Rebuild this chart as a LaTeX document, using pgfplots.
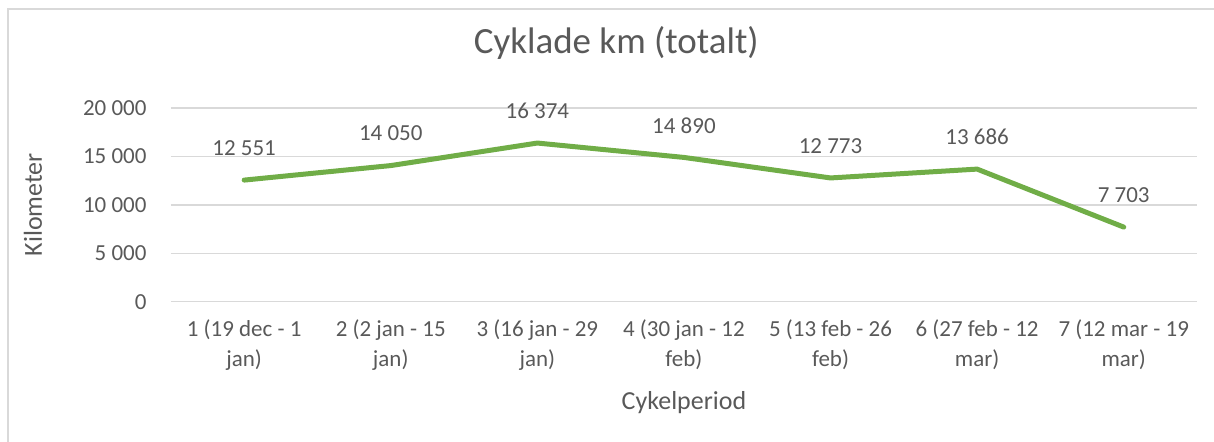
\documentclass[border=0pt]{standalone}
\usepackage{pgfplots}
\pgfplotsset{compat=1.18}
\usepackage{fontspec}
\setmainfont{Carlito}
\definecolor{txt}{HTML}{595959}
\definecolor{grd}{HTML}{D9D9D9}
\definecolor{grn}{HTML}{70AD47}
\begin{document}
\begin{tikzpicture}
\begin{axis}[name=ax, scale only axis, width=513.5pt, height=97pt,
  xmin=-0.5, xmax=6.5, ymin=0, ymax=20000,
  clip=false,
  axis line style={draw=none},
  major tick length=0pt,
  scaled y ticks=false,
  ytick={0,5000,10000,15000,20000},
  yticklabels={0,5 000,10 000,15 000,20 000},
  xtick={0,1,2,3,4,5,6},
  xticklabels={{1 (19 dec - 1\\jan)},{2 (2 jan - 15\\jan)},{3 (16 jan - 29\\jan)},{4 (30 jan - 12\\feb)},{5 (13 feb - 26\\feb)},{6 (27 feb - 12\\mar)},{7 (12 mar - 19\\mar)}},
  ymajorgrids, grid style={grd, line width=0.75pt},
  yticklabel style={font=\fontsize{11.5}{14}\selectfont, text=txt, anchor=east, inner sep=0pt, xshift=-12pt},
  xticklabel style={font=\fontsize{11.5}{15}\selectfont, text=txt, align=center, anchor=north, inner sep=0pt, yshift=-9pt},
  title={Cyklade km (totalt)},
  title style={at={(axis description cs:0.434,1)}, anchor=center, yshift=26.5pt, font=\fontsize{18.5}{22}\selectfont, text=txt},
  xlabel={Cykelperiod},
  xlabel style={at={(axis description cs:0.5,0)}, anchor=center, yshift=-50.5pt, font=\fontsize{13}{16}\selectfont, text=txt},
  ylabel={Kilometer},
  ylabel style={at={(axis description cs:-0.1344,0.5)}, anchor=center, font=\fontsize{13}{16}\selectfont, text=txt},
  nodes near coords, point meta=explicit symbolic,
  nodes near coords style={font=\fontsize{11.5}{14}\selectfont, text=txt, anchor=center, yshift=16pt},
]
\addplot[grn, line width=2.5pt, line cap=round, line join=round, no marks] coordinates {
  (0,12551) [12 551]
  (1,14050) [14 050]
  (2,16374) [16 374]
  (3,14890) [14 890]
  (4,12773) [12 773]
  (5,13686) [13 686]
  (6,7703) [7 703]
};
\end{axis}
\draw[grd, line width=1pt] ([xshift=-81.25pt,yshift=-75pt]ax.south west) |- ([xshift=12pt,yshift=49.25pt]ax.north east);
\pgfresetboundingbox
\useasboundingbox ([xshift=-85.5pt,yshift=-70pt]ax.south west) rectangle ([xshift=8.5pt,yshift=54pt]ax.north east);
\end{tikzpicture}
\end{document}
